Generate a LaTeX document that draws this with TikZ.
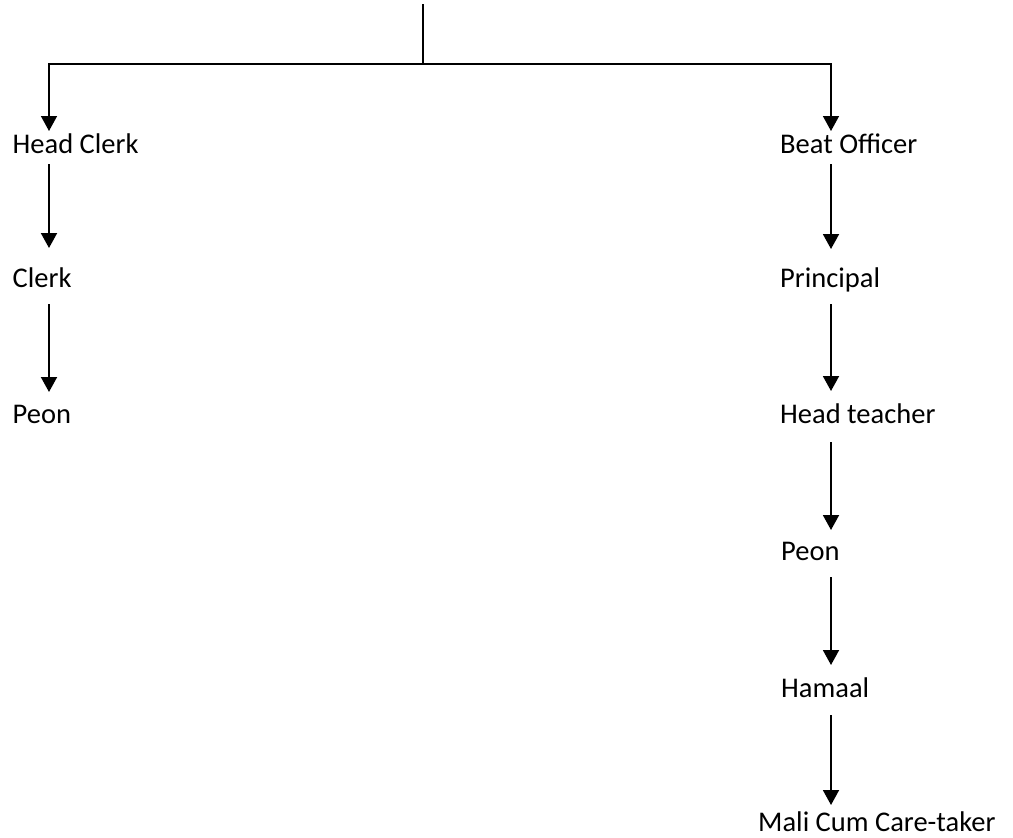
\documentclass[tikz,border=0pt]{standalone}
\usepackage{fontspec}
\setmainfont{Carlito}
\usetikzlibrary{arrows.meta}
\begin{document}
\begin{tikzpicture}[x=1pt,y=-1pt,
  lbl/.style={anchor=base west,inner sep=0pt,font=\fontsize{28.5}{34}\selectfont},
  conn/.style={line width=1.9pt,line cap=butt},
  arr/.style={conn,-{Triangle[length=15pt,width=16pt]}}]
\useasboundingbox (0,0) rectangle (1013,838);
% columns
\coordinate (colL) at (49,0);
\coordinate (colR) at (831,0);
\coordinate (top) at (423,4);
\coordinate (j) at (423,64);
% left
\node[lbl] (hc) at (12.5,153) {Head Clerk};
\node[lbl] (clerk) at (12.5,287) {Clerk};
\node[lbl] (peonL) at (12.5,423) {Peon};
% right
\node[lbl] (beat) at (780,153) {Beat Officer};
\node[lbl] (prin) at (780,287) {Principal};
\node[lbl] (ht) at (780,423) {Head teacher};
\node[lbl] (peonR) at (781,560) {Peon};
\node[lbl] (ham) at (781,697) {Hamaal};
\node[lbl] (mali) at (758,831) {Mali Cum Care-taker};
% connectors
\draw[conn,line width=1.5pt] (top) -- (j);
\draw[arr,line width=1.5pt] (j) -| ([yshift=22pt]hc.base -| colL);
\draw[arr,line width=1.5pt] (j) -| ([yshift=22pt]beat.base -| colR);
\draw[arr] ([yshift=-11pt]hc.base -| colL) -- ([yshift=39pt]clerk.base -| colL);
\draw[arr] ([yshift=-17pt]clerk.base -| colL) -- ([yshift=31pt]peonL.base -| colL);
\draw[arr] ([yshift=-11pt]beat.base -| colR) -- ([yshift=38pt]prin.base -| colR);
\draw[arr] ([yshift=-17pt]prin.base -| colR) -- ([yshift=32pt]ht.base -| colR);
\draw[arr] ([yshift=-19pt]ht.base -| colR) -- ([yshift=30pt]peonR.base -| colR);
\draw[arr] ([yshift=-17pt]peonR.base -| colR) -- ([yshift=32pt]ham.base -| colR);
\draw[arr] ([yshift=-18pt]ham.base -| colR) -- ([yshift=26pt]mali.base -| colR);
\end{tikzpicture}
\end{document}
